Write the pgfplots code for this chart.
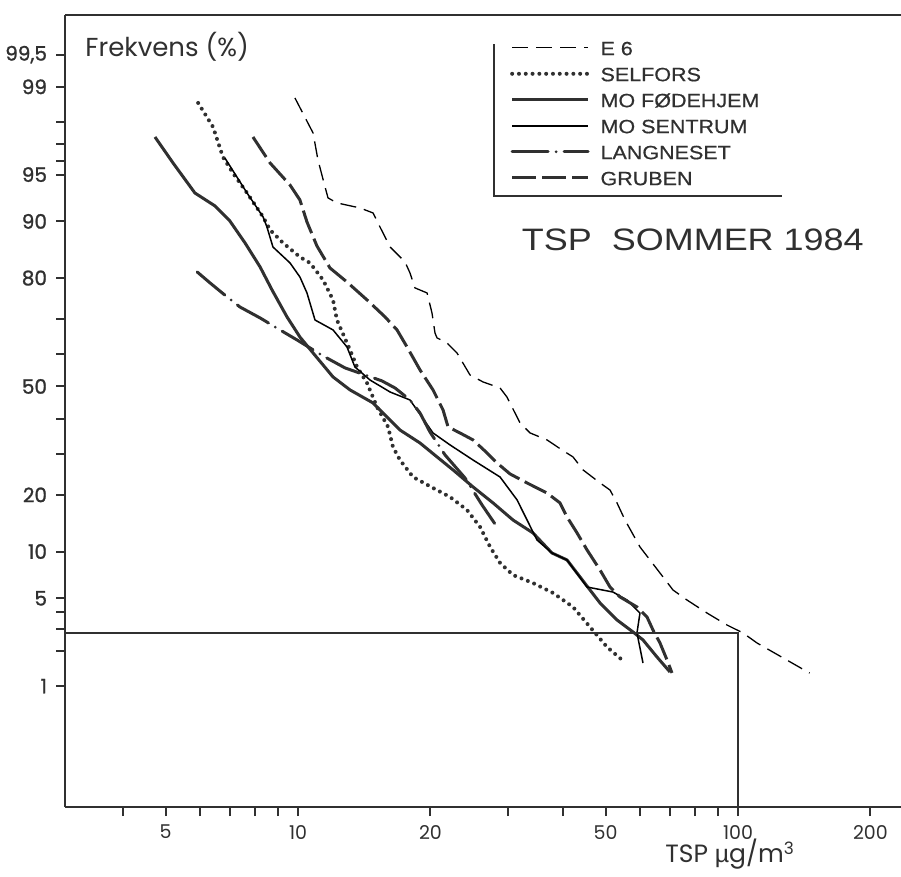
\documentclass[border=0pt]{standalone}
\usepackage{pgfplots}
\pgfplotsset{compat=1.18}
\usepackage{fontspec}
\setmainfont{Liberation Sans}
\newfontfamily\legfont[FakeStretch=1.16]{Liberation Sans}
\newfontfamily\legbold[FakeStretch=1.12,FakeBold=0.6]{Liberation Sans}
\newfontfamily\tickfont{Poppins}
\newfontfamily\tickbold[FakeBold=1.2]{Poppins}
\definecolor{ink}{HTML}{303030}
\definecolor{thin}{HTML}{505050}
\begin{document}
\begin{tikzpicture}
\begin{axis}[
  name=ax, scale only axis, width=418pt, height=396pt, clip=false,
  xmode=log, xmin=2.954, xmax=234.7, ymin=-3.265, ymax=2.884,
  axis lines*=left,
  axis line style={ink, line width=1.3pt},
  tick align=outside,
  major tick length=4.5pt, minor tick length=4.5pt,
  tick style={ink, line width=1pt},
  xtick={5,10,20,50,100,200},
  xticklabels={5,10,20,50,100,200},
  minor xtick={4,6,7,8,9,30,40,60,70,80,90},
  ytick={2.5758,2.3263,1.6449,1.2816,0.8416,0,-0.8416,-1.2816,-1.6449,-2.3263},
  yticklabels={{99,5},99,95,90,80,50,20,10,5,1},
  minor ytick={2.0537,1.8808,1.7507,0.5244,0.2533,-0.2533,-0.5244,-1.7507,-1.8808,-2.0537},
  xticklabel style={font=\tickfont\fontsize{9.5}{10}\selectfont, text=ink, yshift=-1pt},
  yticklabel style={font=\tickbold\fontsize{10}{11}\selectfont, text=ink, xshift=-1pt},
  legend style={at={(rel axis cs:0.532,0.974)}, anchor=north west, draw=none, fill=none,
    font=\legbold\fontsize{9.6}{11}\selectfont, text=ink, row sep=1.2pt, column sep=3pt,
    inner sep=0pt, nodes={text height=7.4pt, text depth=0pt, inner sep=2.2pt}},
  legend cell align=left,
  legend image code/.code={\draw[#1] (0pt,0pt) -- (38pt,0pt);},
]
% E 6
\addplot[thin, line width=0.65pt, dash pattern=on 8pt off 4pt] coordinates {
(9.84,2.240)(10.82,1.968)(11.10,1.759)(11.52,1.549)(11.70,1.464)(12.26,1.425)(13.83,1.386)(14.81,1.347)
(15.36,1.238)(16.19,1.083)(17.51,0.967)(17.97,0.881)(18.45,0.765)(19.65,0.726)(20.16,0.571)(20.48,0.415)
(20.70,0.377)(21.81,0.338)(22.98,0.260)(24.60,0.089)(26.34,0.035)(28.79,-0.012)(29.85,-0.082)(31.96,-0.283)
(33.69,-0.361)(36.81,-0.415)(39.81,-0.493)(42.17,-0.547)(44.45,-0.648)(48.58,-0.749)(51.18,-0.804)(53.09,-0.904)
(55.36,-1.037)(59.87,-1.246)(66.48,-1.448)(71.17,-1.580)(76.58,-1.658)(85.04,-1.759)(94.41,-1.852)(102.7,-1.914)
(110.4,-1.991)(145.5,-2.225)};
\addlegendentry{E 6}
% SELFORS
\addplot[ink, line width=2pt, line cap=round, dash pattern=on 0pt off 3.4pt] coordinates {
(5.93,2.201)(6.41,2.015)(6.75,1.782)(7.11,1.658)(7.66,1.502)(8.33,1.316)(8.64,1.215)(9.25,1.114)(10.10,1.005)
(10.65,0.959)(11.40,0.827)(12.01,0.672)(12.26,0.516)(13.13,0.283)(13.62,0.151)(14.35,0.027)(15.12,-0.159)
(16.02,-0.314)(16.44,-0.470)(17.05,-0.571)(18.26,-0.703)(20.27,-0.788)(22.16,-0.858)(24.22,-0.959)(25.93,-1.091)
(27.33,-1.246)(28.79,-1.370)(30.81,-1.464)(34.20,-1.526)(37.98,-1.603)(42.17,-1.712)(46.09,-1.867)(50.39,-2.023)
(54.51,-2.123)};
\addlegendentry{SELFORS}
% MO FODEHJEM
\addplot[ink, line width=1.5pt, line join=round] coordinates {
(4.73,1.937)(5.20,1.735)(5.83,1.502)(6.48,1.401)(7.00,1.285)(7.58,1.114)(8.20,0.928)(8.73,0.749)(9.44,0.540)
(10.10,0.384)(10.82,0.260)(12.01,0.074)(13.13,-0.027)(14.81,-0.128)(15.93,-0.237)(17.05,-0.338)(18.94,-0.439)
(20.70,-0.547)(22.51,-0.648)(24.99,-0.780)(27.75,-0.904)(30.81,-1.037)(34.20,-1.137)(37.78,-1.293)(40.87,-1.347)
(43.75,-1.479)(46.09,-1.580)(48.58,-1.681)(53.09,-1.813)(57.73,-1.906)(60.83,-1.968)(65.44,-2.100)(70.06,-2.217)};
\addlegendentry{MO FØDEHJEM}
% MO SENTRUM
\addplot[thin, line width=0.75pt, line join=round] coordinates {
(6.82,1.774)(7.66,1.502)(8.33,1.316)(8.50,1.238)(8.77,1.083)(9.59,0.959)(10.10,0.850)(10.48,0.726)(10.93,0.516)
(12.01,0.439)(12.92,0.307)(13.47,0.151)(14.58,0.050)(16.19,-0.043)(17.97,-0.105)(20.27,-0.361)(22.16,-0.454)
(24.99,-0.571)(28.79,-0.703)(31.47,-0.881)(34.93,-1.192)(37.78,-1.293)(40.87,-1.347)(45.38,-1.557)(51.99,-1.596)
(55.93,-1.658)(59.87,-1.759)(58.94,-1.914)(60.83,-2.147)};
\addlegendentry{MO SENTRUM}
% LANGNESET
\addplot[ink, line width=1.5pt, line cap=round, dash pattern=on 18pt off 4pt on 0pt off 4pt] coordinates {
(5.90,0.889)(6.31,0.804)(6.90,0.695)(7.38,0.617)(8.20,0.532)(9.10,0.439)(9.95,0.361)(11.40,0.237)(12.79,0.144)
(15.52,0.043)(16.62,-0.012)(17.97,-0.105)(18.94,-0.206)(19.95,-0.353)(21.59,-0.532)(23.96,-0.710)(26.20,-0.920)
(28.34,-1.091)};
\addlegendentry{LANGNESET}
% GRUBEN
\addplot[ink, line width=1.5pt, dash pattern=on 12pt off 3pt] coordinates {
(7.90,1.937)(8.64,1.735)(9.59,1.564)(10.10,1.448)(10.48,1.277)(11.04,1.091)(11.82,0.920)(12.92,0.811)(14.35,0.672)
(15.77,0.540)(16.79,0.439)(17.69,0.307)(18.94,0.128)(20.27,-0.027)(21.36,-0.182)(21.93,-0.314)(23.34,-0.361)
(24.99,-0.415)(26.89,-0.516)(28.34,-0.594)(30.33,-0.679)(33.15,-0.749)(36.81,-0.827)(39.40,-0.904)(40.87,-1.013)
(43.07,-1.137)(45.38,-1.269)(48.58,-1.425)(51.18,-1.557)(53.93,-1.634)(58.94,-1.712)(62.12,-1.790)(64.10,-1.891)
(66.48,-1.991)(68.97,-2.123)(70.79,-2.224)};
\addlegendentry{GRUBEN}
% reference lines
\addplot[ink, line width=0.9pt, forget plot] coordinates {(2.954,-1.911)(100,-1.911)(100,-3.265)};
% top frame line and legend frame
\draw[ink, line width=1.3pt] (rel axis cs:0,1) -- (rel axis cs:1,1);
\draw[ink, line width=1pt] (rel axis cs:0.513,0.963) |- (rel axis cs:0.858,0.771);
\node[anchor=west, inner sep=0pt, font=\tickfont\fontsize{13}{15}\selectfont, text=ink] at (rel axis cs:0.024,0.96) {Frekvens (\%)};
\node[font=\legfont\fontsize{15.5}{18}\selectfont, text=ink] at (rel axis cs:0.751,0.716) {TSP\ \ SOMMER 1984};
\node[font=\tickfont\fontsize{12.5}{14}\selectfont, text=ink] at (rel axis cs:0.795,-0.06) {TSP {\fontspec{Liberation Sans}µ}g/m\raisebox{0.6ex}{\fontsize{8.5}{9}\selectfont 3}};
\end{axis}
\pgfresetboundingbox
\path ([shift={(-32.5pt,-34.5pt)}]ax.south west) rectangle ([shift={(0pt,7.5pt)}]ax.north east);
\end{tikzpicture}
\end{document}
